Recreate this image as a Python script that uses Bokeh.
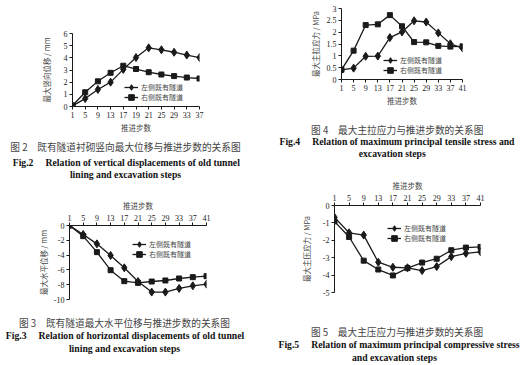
from bokeh.plotting import figure
from bokeh.layouts import row, column
from bokeh.models import Range1d, FixedTicker, Legend, LegendItem
from bokeh.embed import file_html
from bokeh.resources import INLINE
from bokeh.core.properties import value

# ---------------- data ----------------
steps_fig2 = ["1", "5", "9", "13", "17", "19", "21", "25", "29", "33", "37"]
steps_other = ["1", "5", "9", "13", "17", "21", "25", "29", "33", "37", "41"]

series_left = "左侧既有隧道"
series_right = "右侧既有隧道"

# Fig.2 vertical displacement (mm)
vert_left = [0.05, 0.65, 1.4, 2.0, 3.05, 4.02, 4.82, 4.66, 4.46, 4.23, 4.02]
vert_right = [0.08, 1.17, 2.07, 2.77, 3.35, 3.08, 2.82, 2.63, 2.5, 2.38, 2.3]
vert_ticks = [0, 1, 2, 3, 4, 5, 6]
vert_tick_labels = ["0", "1", "2", "3", "4", "5", "6"]

# Fig.4 max principal tensile stress (MPa)
tens_left = [0.41, 0.48, 0.98, 0.99, 1.77, 2.01, 2.48, 2.43, 1.97, 1.51, 1.33]
tens_right = [0.41, 1.22, 2.3, 2.33, 2.72, 2.25, 1.58, 1.57, 1.42, 1.39, 1.4]
tens_ticks = [0, 0.5, 1, 1.5, 2, 2.5, 3]
tens_tick_labels = ["0", "0.5", "1", "1.5", "2", "2.5", "3"]

# Fig.3 horizontal displacement (mm)
horiz_left = [0, -1.22, -2.48, -4.05, -5.72, -7.57, -9.0, -9.0, -8.5, -8.15, -7.93]
horiz_right = [0, -1.44, -3.6, -6.04, -7.52, -7.75, -7.57, -7.43, -7.16, -6.98, -6.85]
horiz_ticks = [0, -2, -4, -6, -8, -10]
horiz_tick_labels = ["0", "-2", "-4", "-6", "-8", "-10"]

# Fig.5 max principal compressive stress (MPa)
comp_left = [-0.68, -1.57, -1.7, -3.26, -3.55, -3.58, -3.74, -3.51, -2.94, -2.75, -2.66]
comp_right = [-0.91, -1.81, -3.17, -3.68, -4.02, -3.6, -3.28, -3.06, -2.57, -2.42, -2.38]
comp_ticks = [0, -1, -2, -3, -4, -5]
comp_tick_labels = ["0", "-1", "-2", "-3", "-4", "-5"]

x_title = "推进步数"

GAP = "\u00a0" * 5
cap2 = ["图 2\u3000既有隧道衬砌竖向最大位移与推进步数的关系图",
        "Fig.2" + GAP + "Relation of vertical displacements of old tunnel",
        "lining and excavation steps"]
cap4 = ["图 4\u3000最大主拉应力与推进步数的关系图",
        "Fig.4" + GAP + "Relation of maximum principal tensile stress and",
        "excavation steps"]
cap3 = ["图 3\u3000既有隧道最大水平位移与推进步数的关系图",
        "Fig.3" + GAP + "Relation of horizontal displacements of old tunnel",
        "lining and excavation steps"]
cap5 = ["图 5\u3000最大主压应力与推进步数的关系图",
        "Fig.5" + GAP + "Relation of maximum principal compressive stress",
        "and excavation steps"]

CJK = "Noto Sans CJK SC"
SERIF = "Liberation Serif"
INK = "#1a1a1a"
GREY = "#444444"


def make_chart(steps, left, right, y0, y1, yticks, ylabels, ylab, x_loc,
               w, h, mbl, fw, mbt, fh, leg_x, leg_ys, ylab_standoff):
    p = figure(width=w, height=h, x_range=Range1d(0, len(steps) - 1),
               y_range=Range1d(y0, y1), output_backend="svg",
               toolbar_location=None, x_axis_location=x_loc,
               min_border_left=mbl, min_border_right=w - mbl - fw,
               min_border_top=mbt, min_border_bottom=h - mbt - fh)
    p.outline_line_color = None
    p.grid.visible = False
    p.background_fill_color = "white"
    p.border_fill_color = "white"
    xs = list(range(len(steps)))

    p.xaxis.ticker = FixedTicker(ticks=xs)
    p.xaxis.major_label_overrides = {i: s for i, s in enumerate(steps)}
    p.yaxis.ticker = FixedTicker(ticks=yticks)
    p.yaxis.major_label_overrides = {t: l for t, l in zip(yticks, ylabels)}
    for ax in (p.xaxis[0], p.yaxis[0]):
        ax.axis_line_color = INK
        ax.axis_line_width = 1
        ax.major_tick_line_color = INK
        ax.major_tick_out = 3
        ax.major_tick_in = 0
        ax.minor_tick_line_color = None
        ax.major_label_text_font = SERIF
        ax.major_label_text_font_size = "8px"
        ax.major_label_text_color = INK
        ax.major_label_standoff = 2
        ax.axis_label_text_font = CJK
        ax.axis_label_text_font_size = "7.5px"
        ax.axis_label_text_font_style = "normal"
        ax.axis_label_text_color = GREY
    p.xaxis.axis_label = x_title
    p.xaxis.axis_label_standoff = 1
    p.yaxis.axis_label = ylab
    p.yaxis.axis_label_standoff = ylab_standoff

    l1 = p.line(xs, left, line_color=INK, line_width=1.3)
    s1 = p.scatter(xs, left, marker="diamond", size=8, fill_color=INK, line_color=INK)
    l2 = p.line(xs, right, line_color=INK, line_width=1.3)
    s2 = p.scatter(xs, right, marker="square", size=5, fill_color=INK, line_color=INK)

    for lab, rends, ly in ((series_left, [l1, s1], leg_ys[0]),
                           (series_right, [l2, s2], leg_ys[1])):
        leg = Legend(items=[LegendItem(label=lab, renderers=rends)],
                     location=(leg_x, ly), padding=0, margin=0, spacing=0,
                     glyph_width=14, glyph_height=14, label_height=7,
                     label_standoff=3, label_text_font=CJK,
                     label_text_font_size="7px", label_text_color=GREY,
                     border_line_color=None, background_fill_alpha=0)
        p.add_layout(leg)
    return p


def make_caption(w, h, cx, ys, lines):
    c = figure(width=w, height=h, x_range=Range1d(0, w), y_range=Range1d(h, 0),
               output_backend="svg", toolbar_location=None, min_border=0,
               x_axis_type=None, y_axis_type=None)
    c.outline_line_color = None
    c.grid.visible = False
    specs = [(CJK, "9.7px", "normal", GREY),
             (SERIF, "9.7px", "bold", "#111111"),
             (SERIF, "9.7px", "bold", "#111111")]
    for x, y, txt, (font, size, style, col) in zip(cx, ys, lines, specs):
        c.text(x=[x], y=[y], text=[txt], text_font=value(font),
               text_font_size=size, text_font_style=style, text_color=col,
               text_align="center", text_baseline="middle")
    return c


W = 265
figA = make_chart(steps_fig2, vert_left, vert_right, 0, 6, vert_ticks, vert_tick_labels,
                  "最大竖向位移 / mm", "below", W, 138, 72, 127, 33, 73, 52, (12, 2), 9)
capA = make_caption(W, 42, [125, 125.8, 125], [8.5, 23.5, 36], cap2)
figC = make_chart(steps_other, horiz_left, horiz_right, -10, 0, horiz_ticks, horiz_tick_labels,
                  "最大水平位移 / mm", "above", W, 130, 69, 137, 45, 74, 63, (48.3, 38.3), 2)
capC = make_caption(W, 55, [124, 124.5, 124], [12.7, 25, 37.7], cap3)

figB = make_chart(steps_other, tens_left, tens_right, 0, 3, tens_ticks, tens_tick_labels,
                  "最大主拉应力 / MPa", "below", W, 118, 76, 121, 8, 71, 42, (12, 2), 3)
capB = make_caption(W, 58, [131.7, 131.5, 126.7], [11, 23, 34.5], cap4)
figD = make_chart(steps_other, comp_left, comp_right, -5, 0, comp_ticks, comp_tick_labels,
                  "最大主压应力 / MPa", "above", W, 144, 69, 146, 28, 88, 53, (57, 47), 8)
capD = make_caption(W, 45, [131.5, 133.5, 129], [11.7, 24.3, 36.7], cap5)

left_col = column(row(figA), row(capA), row(figC), row(capC))
right_col = column(row(figB), row(capB), row(figD), row(capD))
layout = row(left_col, right_col)

open("out.html", "w").write(file_html(layout, INLINE))
